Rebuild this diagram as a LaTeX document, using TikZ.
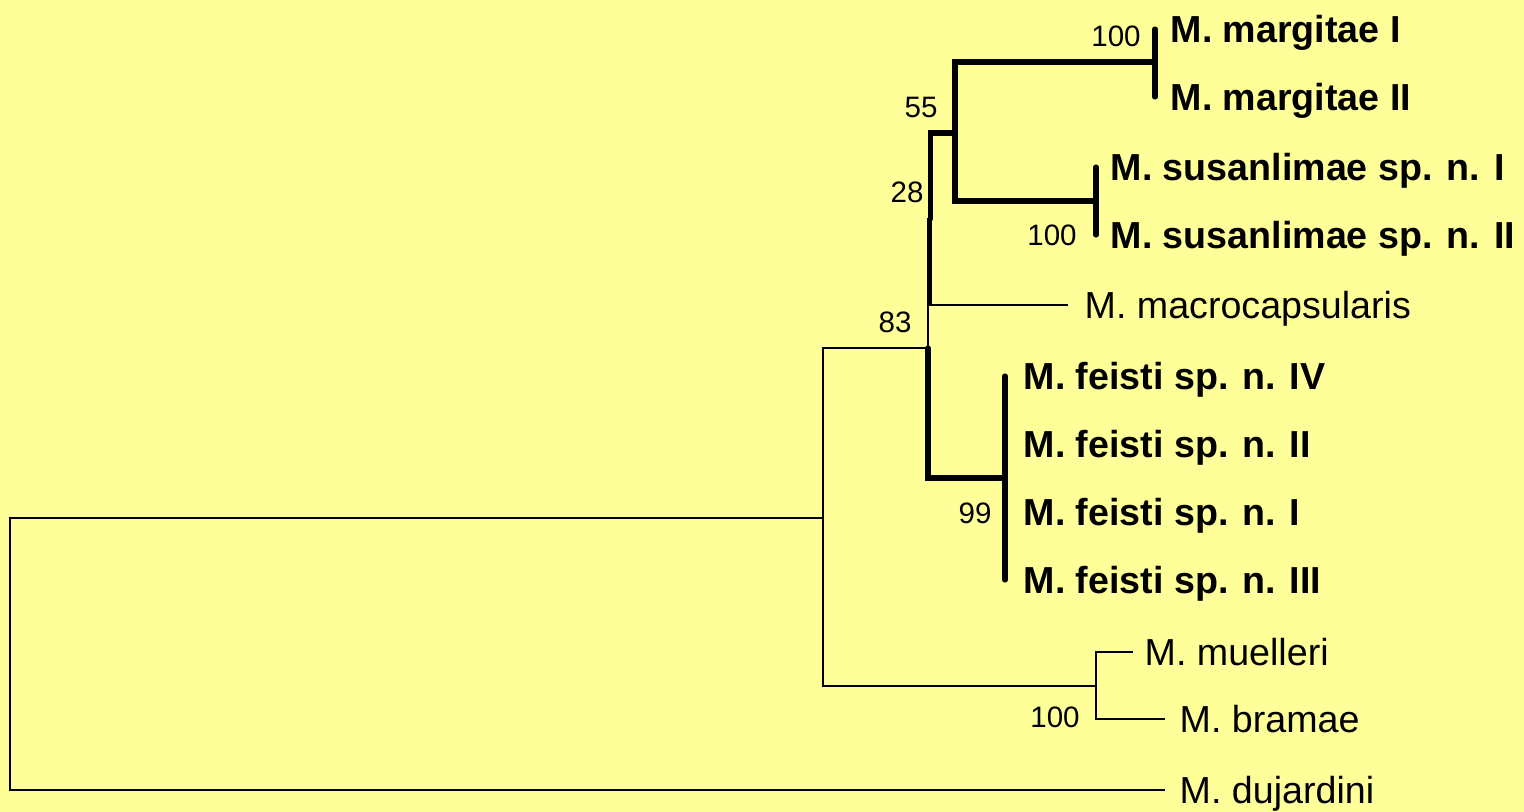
\documentclass[tikz,border=0pt]{standalone}
\usepackage{fontspec}
\setmainfont{Liberation Sans}
\usetikzlibrary{positioning}
\definecolor{paleyellow}{RGB}{255,255,153}

\begin{document}
\begin{tikzpicture}[
    x=0.01cm, y=-0.01cm,
    branch/.style={line width=0.65pt, black},
    strong/.style={line width=1.45pt, black, line cap=round},
    taxon/.style={
        font=\fontsize{10.7}{12}\selectfont, text height=7.66pt, text depth=0pt,
        inner sep=0pt
    },
    newtaxon/.style={taxon, font=\fontsize{10.7}{12}\selectfont\bfseries},
    boot/.style={font=\fontsize{8.4}{10}\selectfont, text height=6pt, text depth=0pt, inner sep=0pt}
]

\fill[paleyellow] (0,0) rectangle (1524,812);

\coordinate (root) at (10,654);
\coordinate (nA) at (823,518);
\coordinate (nB) at (1096,686);
\coordinate (nC) at (928,348);
\coordinate (nD) at (930.5,219);
\coordinate (nE) at (955,133);
\coordinate (nM) at (1155,62);
\coordinate (nS) at (1096,201);
\coordinate (nF) at (1005,478);

\coordinate (tmar1) at (1155,29);
\coordinate (tmar2) at (1155,97);
\coordinate (tsus1) at (1096,167);
\coordinate (tsus2) at (1096,235);
\coordinate (tmac) at (1068,305);
\coordinate (tfei4) at (1005,376);
\coordinate (tfei2) at (1005,444);
\coordinate (tfei1) at (1005,512);
\coordinate (tfei3) at (1005,580);
\coordinate (tmue) at (1133,652);
\coordinate (tbra) at (1165,719);
\coordinate (tduj) at (1165,790);

\draw[branch] (root) |- (nA);
\draw[branch] (root) |- (tduj);
\draw[branch] (nA) |- (nC);
\draw[branch] (nA) |- (nB);
\draw[branch] (nB) |- (tmue);
\draw[branch] (nB) |- (tbra);
\draw[branch] (nC) |- (nD);
\draw[strong] (nC) |- (nF);
\draw[branch] (nD) |- (tmac);
\draw[strong] (nD) |- (nE);
\draw[strong] (nE) |- (nM);
\draw[strong] (nE) |- (nS);
\foreach \tip in {tmar1, tmar2} \draw[strong] (nM) |- (\tip);
\foreach \tip in {tsus1, tsus2} \draw[strong] (nS) |- (\tip);
\foreach \tip in {tfei4, tfei2, tfei1, tfei3} \draw[strong] (nF) |- (\tip);

\node[newtaxon, right=0.15cm of tmar1] (mar1) {M. margitae I};
\node[newtaxon, right=0.15cm of tmar2] (mar2) {M. margitae II};
\node[newtaxon, right=0.14cm of tsus1] (sus1) {M. susanlimae sp. n. I};
\node[newtaxon, right=0.14cm of tsus2] (sus2) {M. susanlimae sp. n. II};
\node[taxon, right=0.16cm of tmac] (mac) {M. macrocapsularis};
\node[newtaxon, right=0.18cm of tfei4] (fei4) {M. feisti sp. n. IV};
\node[newtaxon, right=0.18cm of tfei2] (fei2) {M. feisti sp. n. II};
\node[newtaxon, right=0.18cm of tfei1] (fei1) {M. feisti sp. n. I};
\node[newtaxon, right=0.18cm of tfei3] (fei3) {M. feisti sp. n. III};
\node[taxon, right=0.11cm of tmue] (mue) {M. muelleri};
\node[taxon, right=0.14cm of tbra] (bra) {M. bramae};
\node[taxon, right=0.14cm of tduj] (duj) {M. dujardini};

\node[boot] (bmar) at (1116,36) {100};
\node[boot] (bsus) at (1052,235) {100};
\node[boot] (b55) at (921,107) {55};
\node[boot] (b28) at (907,192) {28};
\node[boot] (b83) at (895,322) {83};
\node[boot] (bfei) at (975,513) {99};
\node[boot] (bmb) at (1055,717) {100};

\end{tikzpicture}
\end{document}
